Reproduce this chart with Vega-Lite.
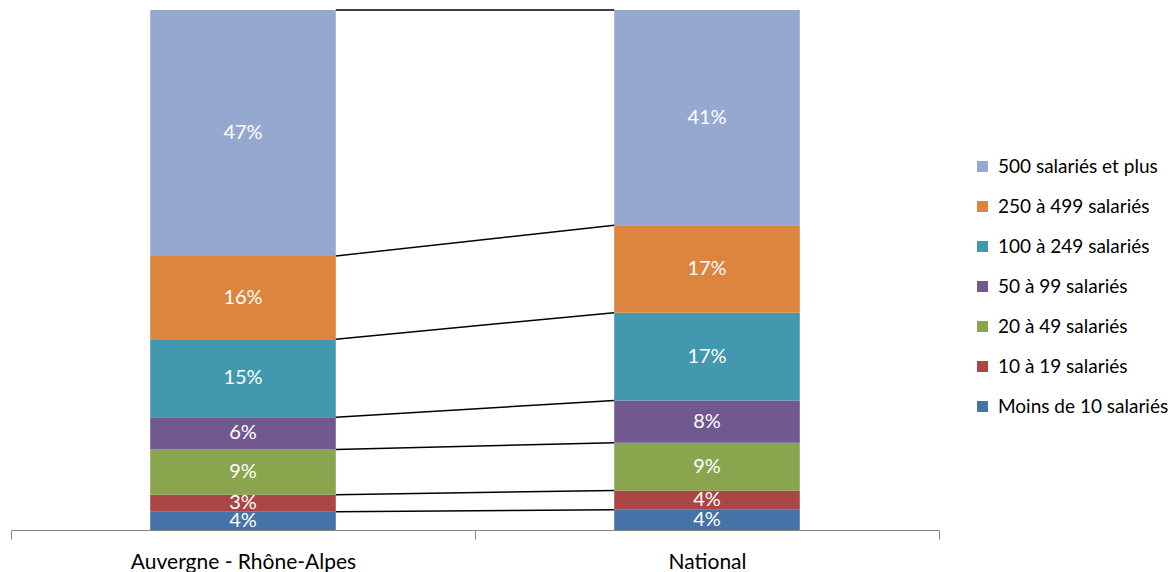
{
  "$schema": "https://vega.github.io/schema/vega-lite/v6.json",
  "autosize": {"type": "none"},
  "padding": {"left": 11, "top": 10, "right": 234, "bottom": 42},
  "width": 928,
  "height": 520,
  "background": "white",
  "config": {"view": {"stroke": null}, "font": "Lato"},
  "data": {
    "values": [
      {"region": "Auvergne - Rhône-Alpes", "cls": "Moins de 10 salariés", "rank": 1, "share": 0.035},
      {"region": "Auvergne - Rhône-Alpes", "cls": "10 à 19 salariés", "rank": 2, "share": 0.033},
      {"region": "Auvergne - Rhône-Alpes", "cls": "20 à 49 salariés", "rank": 3, "share": 0.087},
      {"region": "Auvergne - Rhône-Alpes", "cls": "50 à 99 salariés", "rank": 4, "share": 0.062},
      {"region": "Auvergne - Rhône-Alpes", "cls": "100 à 249 salariés", "rank": 5, "share": 0.150},
      {"region": "Auvergne - Rhône-Alpes", "cls": "250 à 499 salariés", "rank": 6, "share": 0.160},
      {"region": "Auvergne - Rhône-Alpes", "cls": "500 salariés et plus", "rank": 7, "share": 0.473},
      {"region": "National", "cls": "Moins de 10 salariés", "rank": 1, "share": 0.039},
      {"region": "National", "cls": "10 à 19 salariés", "rank": 2, "share": 0.037},
      {"region": "National", "cls": "20 à 49 salariés", "rank": 3, "share": 0.092},
      {"region": "National", "cls": "50 à 99 salariés", "rank": 4, "share": 0.081},
      {"region": "National", "cls": "100 à 249 salariés", "rank": 5, "share": 0.169},
      {"region": "National", "cls": "250 à 499 salariés", "rank": 6, "share": 0.168},
      {"region": "National", "cls": "500 salariés et plus", "rank": 7, "share": 0.414}
    ]
  },
  "layer": [
    {
      "mark": {"type": "bar", "width": {"band": 0.4}},
      "encoding": {
        "x": {
          "field": "region", "type": "nominal",
          "scale": {"paddingInner": 0, "paddingOuter": 0, "domain": ["Auvergne - Rhône-Alpes", "National"]},
          "axis": {
            "title": null, "labelAngle": 0, "tickBand": "extent",
            "domainColor": "#868686", "tickColor": "#868686", "tickSize": 9,
            "labelFontSize": 21, "labelColor": "#000000", "labelPadding": 12, "labelFont": "Lato",
            "labelLimit": 400
          }
        },
        "y": {"field": "share", "type": "quantitative", "stack": "zero", "scale": {"domain": [0, 1]}, "axis": null},
        "order": {"field": "rank", "type": "quantitative"},
        "color": {
          "field": "cls", "type": "nominal",
          "scale": {
            "domain": ["500 salariés et plus", "250 à 499 salariés", "100 à 249 salariés", "50 à 99 salariés", "20 à 49 salariés", "10 à 19 salariés", "Moins de 10 salariés"],
            "range": ["#95A9D0", "#DC853E", "#4298AF", "#71588F", "#89A54E", "#AA4643", "#4572A7"]
          },
          "legend": {
            "title": null, "orient": "none", "legendX": 962, "legendY": 147,
            "symbolType": "square", "symbolSize": 121, "symbolStrokeWidth": 0, "symbolOpacity": 1,
            "labelFontSize": 19, "labelColor": "#000000", "labelFont": "Lato", "labelOffset": 6, "rowPadding": 20,
            "labelLimit": 300
          }
        }
      }
    },
    {
      "mark": {"type": "text", "color": "white", "fontSize": 20, "font": "Lato"},
      "encoding": {
        "x": {"field": "region", "type": "nominal"},
        "y": {"field": "share", "type": "quantitative", "stack": "zero", "bandPosition": 0.5},
        "order": {"field": "rank", "type": "quantitative"},
        "text": {"field": "share", "type": "quantitative", "format": ".0%"}
      }
    },
    {
      "transform": [
        {"stack": "share", "groupby": ["region"], "sort": [{"field": "rank", "order": "ascending"}], "as": ["s0", "s1"]},
        {"pivot": "region", "value": "s1", "groupby": ["cls"]}
      ],
      "mark": {"type": "rule", "color": "#000000", "strokeWidth": 1.5},
      "encoding": {
        "x": {"datum": "Auvergne - Rhône-Alpes", "type": "nominal", "bandPosition": 0.7},
        "x2": {"datum": "National", "bandPosition": 0.3},
        "y": {"field": "Auvergne - Rhône-Alpes", "type": "quantitative"},
        "y2": {"field": "National"}
      }
    }
  ]
}
